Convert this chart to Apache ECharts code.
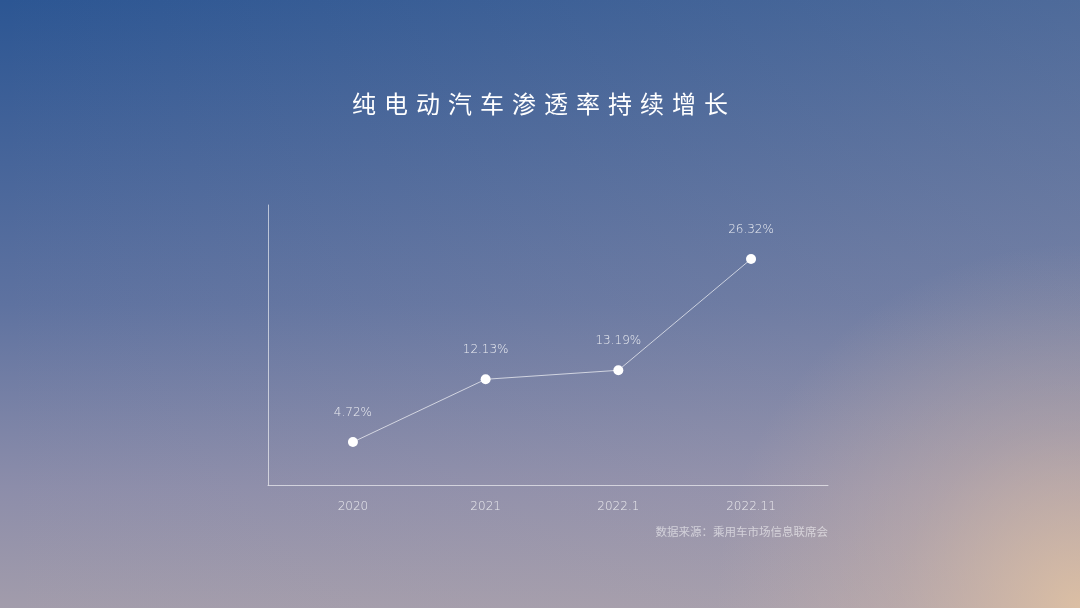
<!DOCTYPE html>
<html>
<head>
<meta charset="utf-8">
<script src="https://cdn.jsdelivr.net/npm/echarts@6/dist/echarts.min.js"></script>
<style>html,body{margin:0;padding:0;}#c{width:1080px;height:608px;}</style>
</head>
<body>
<div id="c"></div>
<script>
var titleText = '纯电动汽车渗透率持续增长';
var sourceText = '数据来源：乘用车市场信息联席会';
var categories = ['2020', '2021', '2022.1', '2022.11'];
var penetration = [4.72, 12.13, 13.19, 26.32];

var chart = echarts.init(document.getElementById('c'), null, {renderer: 'canvas'});
var pts = penetration.map(function (v, i) { return [i, v]; });
var cjk = '"Noto Sans CJK SC", "Noto Sans", sans-serif';
var num = '"DejaVu Sans", "Noto Sans", sans-serif';
var spacedTitle = titleText.split('').join('\u2004');

chart.setOption({
  backgroundColor: {
    type: 'linear', x: 0, y: 0, x2: 0, y2: 1,
    colorStops: [
      {offset: 0, color: '#2c5693'},
      {offset: 0.5, color: '#5e72a0'},
      {offset: 0.8, color: '#8c8daa'},
      {offset: 1, color: '#a29cab'}
    ]
  },
  graphic: [
    {
      type: 'rect', silent: true, z: -10,
      shape: {x: 0, y: 0, width: 1080, height: 608},
      style: {
        fill: {
          type: 'linear', x: 0, y: 0, x2: 1, y2: 0,
          colorStops: [
            {offset: 0, color: 'rgba(200,180,180,0)'},
            {offset: 1, color: 'rgba(200,180,180,0.22)'}
          ]
        }
      }
    },
    {
      type: 'rect', silent: true, z: -9,
      shape: {x: 0, y: 0, width: 1080, height: 608},
      style: {
        fill: {
          type: 'radial', x: 1, y: 1, r: 0.6,
          colorStops: [
            {offset: 0, color: 'rgba(228,196,162,0.85)'},
            {offset: 0.5, color: 'rgba(215,185,165,0.35)'},
            {offset: 1, color: 'rgba(205,180,170,0)'}
          ]
        }
      }
    },
    {
      type: 'text', left: 'center', top: 92,
      style: {text: spacedTitle, fill: '#ffffff', font: '24px ' + cjk}
    },
    {
      type: 'text', right: 252, top: 526,
      style: {text: sourceText, fill: 'rgba(255,255,255,0.55)', font: '11.5px ' + cjk}
    }
  ],
  grid: {left: 268, right: 252, top: 205, bottom: 123},
  xAxis: {
    type: 'value', min: -0.64, max: 3.58,
    axisLine: {show: true, onZero: false, lineStyle: {color: 'rgba(255,255,255,0.6)', width: 1}},
    axisTick: {show: false},
    splitLine: {show: false},
    axisLabel: {
      show: true, customValues: [0, 1, 2, 3], margin: 16,
      color: 'rgba(255,255,255,0.8)', fontSize: 12, fontFamily: num, fontWeight: 'lighter',
      formatter: function (v) { return categories[Math.round(v)] || ''; }
    }
  },
  yAxis: {
    type: 'value', min: -0.35, max: 32.7,
    axisLine: {show: true, onZero: false, lineStyle: {color: 'rgba(255,255,255,0.6)', width: 1}},
    axisTick: {show: false},
    axisLabel: {show: false},
    splitLine: {show: false}
  },
  series: [{
    type: 'line',
    data: pts,
    symbol: 'circle', symbolSize: 10,
    itemStyle: {color: '#ffffff'},
    lineStyle: {color: 'rgba(255,255,255,0.65)', width: 1},
    label: {
      show: true, position: 'top', distance: 18,
      color: 'rgba(255,255,255,0.85)', fontSize: 12, fontFamily: num, fontWeight: 'lighter',
      formatter: function (p) { return penetration[p.dataIndex].toFixed(2) + '%'; }
    },
    animation: false
  }],
  animation: false
});
</script>
</body>
</html>
